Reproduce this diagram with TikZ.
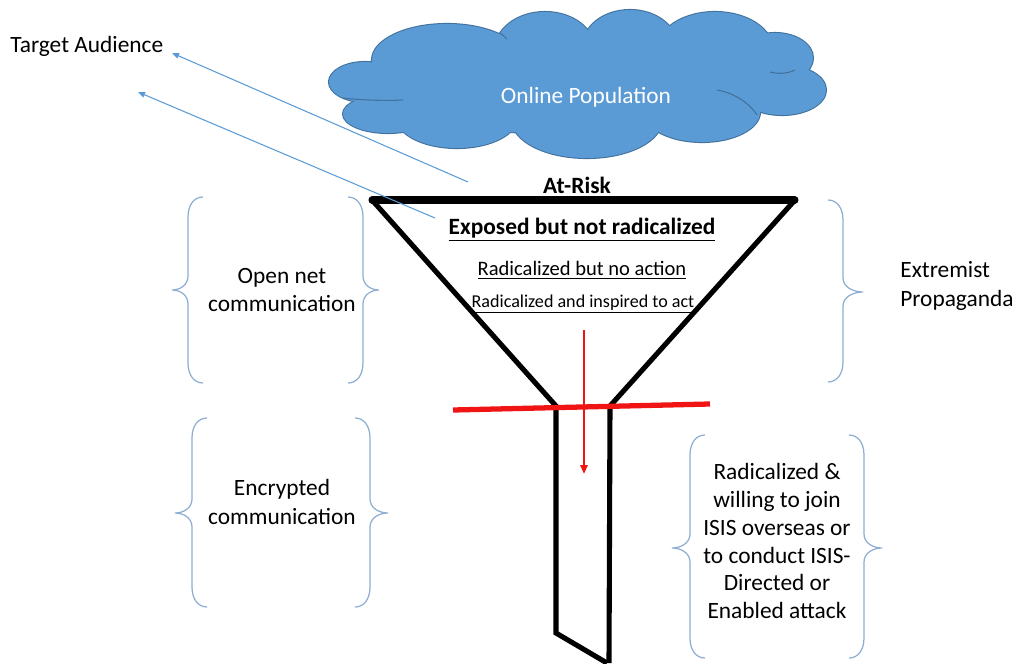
\documentclass[tikz,border=0pt]{standalone}
\usepackage{fontspec}
\setmainfont{Carlito}
\usetikzlibrary{arrows.meta}
\definecolor{cloudblue}{HTML}{5B9BD5}
\definecolor{cloudedge}{HTML}{41719C}
\definecolor{bracecol}{HTML}{8DAED2}
\definecolor{arrowblue}{HTML}{5B9BD5}
\definecolor{funnelred}{HTML}{F01414}
\newcommand{\mylbrace}[5]{% #1 vertical x, #2 tip x, #3 top y, #4 mid y, #5 bottom y
  \draw[bracestyle] ({#1+15},#3) .. controls ({#1+6},#3) and (#1,{#3+8}) .. (#1,{#3+20})
    -- (#1,{#4-14}) .. controls (#1,{#4-5}) and ({(#1+#2)/2},#4) .. (#2,#4)
    .. controls ({(#1+#2)/2},#4) and (#1,{#4+5}) .. (#1,{#4+14})
    -- (#1,{#5-20}) .. controls (#1,{#5-8}) and ({#1+6},#5) .. ({#1+15},#5);}
\newcommand{\myrbrace}[5]{%
  \draw[bracestyle] ({#1-15},#3) .. controls ({#1-6},#3) and (#1,{#3+8}) .. (#1,{#3+20})
    -- (#1,{#4-14}) .. controls (#1,{#4-5}) and ({(#1+#2)/2},#4) .. (#2,#4)
    .. controls ({(#1+#2)/2},#4) and (#1,{#4+5}) .. (#1,{#4+14})
    -- (#1,{#5-20}) .. controls (#1,{#5-8}) and ({#1-6},#5) .. ({#1-15},#5);}
\newcommand{\cloudpuffs}{%
  365/82/36/20, 388/114/45/19, 447/60/75/36, 545/50/50/38, 630/46/47/36,
  715/50/58/38, 775/58/38/25, 782/90/44/25, 702/112/58/30, 587/120/75/38,
  457/118/60/30, 580/85/200/50}
\tikzset{
  lbl/.style={font=\fontsize{13.3}{16}\selectfont, align=center, inner sep=0pt},
  bracestyle/.style={draw=bracecol, line width=0.7pt},
  funnelside/.style={draw=black, line width=2.9pt, line join=miter},
  funneltop/.style={draw=black, line width=4pt, line cap=round},
  redbar/.style={draw=funnelred, line width=3pt},
  redarrow/.style={draw=funnelred, line width=1.2pt, -{Triangle[length=5pt,width=4pt]}},
  bluearrow/.style={draw=arrowblue, line width=0.6pt, -{Triangle[length=4pt,width=3.2pt]}},
  cloudline/.style={draw=cloudedge, line width=1.2pt},
  cloudinner/.style={draw=cloudedge, line width=0.6pt}
}
\begin{document}
\begin{tikzpicture}[x=0.02cm,y=-0.02cm]
\useasboundingbox (0,0) rectangle (1018,663);
% cloud (union of puffs)
\foreach \cx/\cy/\rx/\ry in \cloudpuffs
  \draw[cloudline] (\cx,\cy) ellipse [x radius=\rx, y radius=\ry];
\foreach \cx/\cy/\rx/\ry in \cloudpuffs
  \fill[cloudblue] (\cx,\cy) ellipse [x radius=\rx, y radius=\ry];
\draw[cloudinner] (343,98) .. controls (360,100) and (385,101) .. (403,100);
\draw[cloudinner] (717,90) .. controls (735,93) and (750,104) .. (757,115);
\draw[cloudinner] (770,72) .. controls (778,74) and (787,74) .. (795,70);
\draw[cloudinner] (500,33) .. controls (503,35) and (505,37) .. (507,39);
\node[lbl, text=white] (online) at (586,97) {Online Population};
% funnel
\coordinate (tl) at (372,200);
\coordinate (tr) at (795,200);
\coordinate (nl) at (556,406);
\coordinate (nr) at (610,406);
\coordinate (sl) at (556,633);
\coordinate (sb) at (607,663);
\coordinate (sr) at (609,663);
\draw[funnelside] (tl) -- (nl) -- (sl) -- (sb);
\draw[funnelside] (tr) -- (nr) -- (sr);
\draw[funneltop] (tl) -- (tr);
% red bar and arrow
\coordinate (bl) at (453,410);
\coordinate (br) at (710,404);
\draw[redbar] (bl) -- (br);
\coordinate (rs) at (584,330);
\coordinate (re) at (584,474);
\draw[redarrow] (rs) -- (re);
% texts
\node[lbl, anchor=west] (ta) at (10,46) {Target Audience};
\node[lbl, font=\fontsize{13.3}{16}\selectfont\bfseries] (atrisk) at (577,187) {\underline{At-Risk}};
\node[lbl, font=\fontsize{13.3}{16}\selectfont\bfseries] (exposed) at (582,230) {\underline{Exposed but not radicalized}};
\node[lbl, font=\fontsize{11.7}{14}\selectfont] (noaction) at (582,270) {\underline{Radicalized but no action}};
\node[lbl, font=\fontsize{10.3}{12}\selectfont] (inspired) at (583,304) {\underline{Radicalized and inspired to act}};
\node[lbl] (open) at (282,290) {Open net\\communication};
\node[lbl] (encr) at (282,502) {Encrypted\\communication};
\node[lbl, align=left, anchor=west] (extr) at (900,286) {Extremist\\Propaganda};
\node[lbl, font=\fontsize{13.3}{15.9}\selectfont] (willing) at (777,541) {Radicalized \&\\willing to join\\ISIS overseas or\\to conduct ISIS-\\Directed or\\Enabled attack};
% blue arrows
\coordinate (a1s) at (468,182);
\coordinate (a1e) at (172,53);
\coordinate (a2s) at (435,218);
\coordinate (a2e) at (138,92);
\draw[bluearrow] (a1s) -- (a1e);
\draw[bluearrow] (a2s) -- (a2e);
% braces
\mylbrace{188}{172}{197}{290}{383}
\myrbrace{363}{379}{197}{290}{383}
\mylbrace{192}{175}{418}{513}{607}
\myrbrace{370}{388}{418}{513}{607}
\myrbrace{843}{863}{200}{292}{382}
\mylbrace{690}{672}{435}{548}{658}
\myrbrace{864}{882}{435}{548}{658}
\end{tikzpicture}
\end{document}
